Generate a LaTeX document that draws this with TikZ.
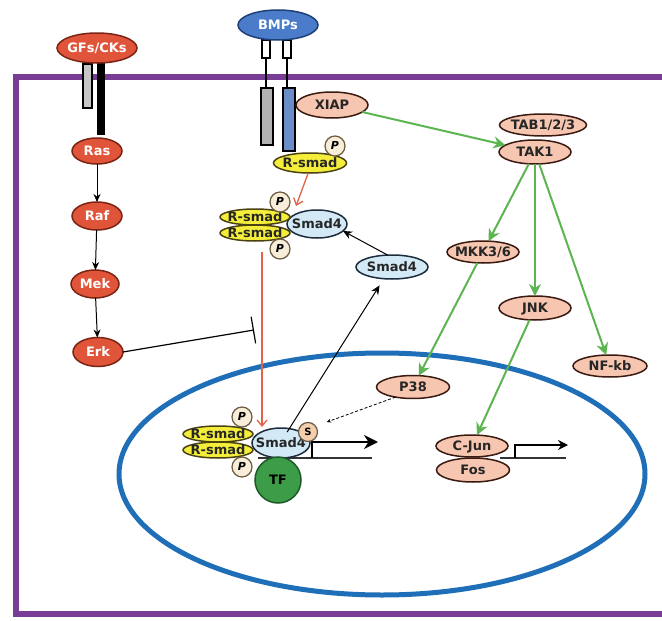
\documentclass[tikz,border=0pt]{standalone}
\usepackage{fontspec}
\setmainfont{DejaVu Sans}
\usetikzlibrary{shapes.geometric,arrows.meta}
\definecolor{mapk}{HTML}{E0553A}
\definecolor{mapkd}{HTML}{7A2414}
\definecolor{bmp}{HTML}{4A7CC9}
\definecolor{bmpd}{HTML}{1E3F78}
\definecolor{bmprec}{HTML}{6A8CC8}
\definecolor{salm}{HTML}{F6C6B0}
\definecolor{salmd}{HTML}{3A1A10}
\definecolor{yel}{HTML}{F4EE3A}
\definecolor{yeld}{HTML}{4A4210}
\definecolor{lblue}{HTML}{D3E9F6}
\definecolor{lblued}{HTML}{1C2C3C}
\definecolor{pfill}{HTML}{F7EDD8}
\definecolor{pdraw}{HTML}{6A5A40}
\definecolor{sfill}{HTML}{F4CFAE}
\definecolor{tfg}{HTML}{3C9C48}
\definecolor{tfgd}{HTML}{1D5A25}
\definecolor{nucb}{HTML}{1F6FB8}
\definecolor{memp}{HTML}{7A3D96}
\definecolor{grn}{HTML}{5CB550}
\definecolor{redar}{HTML}{E0634A}
\newcommand{\cellab}[1]{\makebox[0pt]{\raisebox{-.36em}[0pt][0pt]{#1}}}
\begin{document}
\begin{tikzpicture}[x=1pt,y=-1pt,
  mol/.style={ellipse, inner sep=0pt, outer sep=0pt, line width=1.5pt, font=\bfseries\fontsize{13}{15}\selectfont},
  mapkn/.style={mol, fill=mapk, draw=mapkd, text=white},
  bmpn/.style={mol, fill=bmp, draw=bmpd, text=white},
  salmn/.style={mol, fill=salm, draw=salmd, text=black!85},
  yeln/.style={mol, fill=yel, draw=yeld, text=black!85},
  bluen/.style={mol, fill=lblue, draw=lblued, text=black!85},
  phos/.style={circle, inner sep=0pt, minimum size=20pt, fill=pfill, draw=pdraw, line width=1.2pt, font=\bfseries\itshape\fontsize{11}{13}\selectfont},
  tfn/.style={circle, inner sep=0pt, minimum size=46pt, fill=tfg, draw=tfgd, line width=1.5pt, font=\bfseries\fontsize{13}{15}\selectfont},
  grnarr/.style={grn, line width=2pt, -{Stealth[length=12pt,width=12pt]}},
  blkarr/.style={black, line width=1pt, -{Stealth[length=8pt,width=7pt]}},
  redarr/.style={redar, line width=1.3pt, -{Straight Barb[length=6pt,width=10pt]}},
  dasharr/.style={black, line width=0.8pt, dash pattern=on 3pt off 2pt, -{Stealth[length=4pt,width=4pt]}},
  inhib/.style={black, line width=1.2pt, -{Bar[width=27pt,line width=1.2pt]}}
]
\useasboundingbox (0,0) rectangle (662,621);
\fill[white] (0,0) rectangle (662,621);
% membrane
\draw[memp, line width=6pt] (662,77) -- (16,77) -- (16,614) -- (662,614);
% nucleus
\draw[nucb, line width=5pt] (382,474) ellipse [x radius=263, y radius=121];
% GF receptor
\draw[line width=1.4pt, fill=gray!45] (83,64) rectangle (92,108);
\fill[black] (97,63) rectangle (105,135);
% BMP receptor
\draw[line width=1.4pt, fill=white] (262,40) rectangle (270,58);
\draw[line width=1.4pt, fill=white] (283,40) rectangle (291,58);
\draw[line width=2pt] (266,58) -- (266,88);
\draw[line width=2pt] (287,58) -- (287,88);
\draw[line width=1.6pt, fill=gray!60] (261,88) rectangle (273,145);
\draw[line width=1.6pt, fill=bmprec] (283,88) rectangle (295,151);
% gene structures
\draw[line width=1.2pt, black!80] (258,458) -- (372,458);
\draw[line width=1.2pt] (312,458) -- (312,442);
\draw[line width=2pt, -{Stealth[length=14pt,width=14pt]}] (311,442) -- (378,442);
\draw[line width=1.2pt, black!80] (500,458) -- (566,458);
\draw[line width=1.2pt] (515,458) -- (515,445);
\draw[line width=1.6pt, -{Stealth[length=10pt,width=10pt]}] (514.2,445) -- (568,445);
% nodes
\node[mapkn, minimum width=80pt, minimum height=30pt] (gfs) at (97,48) {\cellab{GFs/CKs}};
\node[mapkn, minimum width=50pt, minimum height=26pt] (ras) at (97,151) {\cellab{Ras}};
\node[mapkn, minimum width=50pt, minimum height=28pt] (raf) at (97,216) {\cellab{Raf}};
\node[mapkn, minimum width=48pt, minimum height=28pt] (mek) at (95,284) {\cellab{Mek}};
\node[mapkn, minimum width=50pt, minimum height=29pt] (erk) at (98,352) {\cellab{Erk}};
\node[bmpn, minimum width=80pt, minimum height=30pt] (bmps) at (278,25) {\cellab{BMPs}};
\node[salmn, minimum width=72pt, minimum height=26pt] (xiap) at (332,105) {\cellab{XIAP}};
\node[yeln, minimum width=73pt, minimum height=20pt] (rs1) at (310,163) {\cellab{R-smad}};
\node[phos] (p1) at (335,146) {\cellab{P}};
\node[salmn, minimum width=87pt, minimum height=22pt] (tab) at (543,125) {\cellab{TAB1/2/3}};
\node[salmn, minimum width=72pt, minimum height=24pt] (tak) at (535,152) {\cellab{TAK1}};
\node[salmn, minimum width=72pt, minimum height=22pt] (mkk) at (483,252) {\cellab{MKK3/6}};
\node[salmn, minimum width=72pt, minimum height=24pt] (jnk) at (535,308) {\cellab{JNK}};
\node[salmn, minimum width=74pt, minimum height=22pt] (nfkb) at (610,366) {\cellab{NF-kb}};
\node[salmn, minimum width=73pt, minimum height=23pt] (p38) at (413,387) {\cellab{P38}};
\node[bluen, minimum width=72pt, minimum height=24pt] (sm4f) at (392,267) {\cellab{Smad4}};
% cytoplasmic complex
\node[bluen, minimum width=60pt, minimum height=28pt] (sm4c) at (317,224) {\cellab{Smad4}};
\node[yeln, minimum width=70pt, minimum height=16pt] (rsc2) at (255,233) {\cellab{R-smad}};
\node[yeln, minimum width=70pt, minimum height=16pt] (rsc1) at (255,217) {\cellab{R-smad}};
\node[phos] (pc1) at (280,202) {\cellab{P}};
\node[phos] (pc2) at (280,249) {\cellab{P}};
% nuclear complex
\node[bluen, minimum width=58pt, minimum height=30pt] (sm4n) at (281,443) {\cellab{Smad4}};
\node[yeln, minimum width=70pt, minimum height=16pt] (rsn2) at (218,450) {\cellab{R-smad}};
\node[yeln, minimum width=70pt, minimum height=16pt] (rsn1) at (218,434) {\cellab{R-smad}};
\node[phos] (pn1) at (242,417) {\cellab{P}};
\node[phos] (pn2) at (242,467) {\cellab{P}};
\node[phos, fill=sfill, minimum size=19pt, font=\bfseries\fontsize{10}{12}\selectfont] (sn) at (308,432) {\cellab{S}};
\node[tfn] (tf) at (278,480) {\cellab{TF}};
\node[salmn, minimum width=73pt, minimum height=24pt] (fos) at (473,470) {\cellab{Fos}};
\node[salmn, minimum width=72pt, minimum height=22pt] (cjun) at (472,446) {\cellab{C-Jun}};
% coordinates for free ends
\coordinate (inh) at (254,330);
\coordinate (cxin) at (296,206);
\coordinate (rtop) at (262,252);
\coordinate (rbot) at (262,427);
\coordinate (pend) at (327,422);
% connectors
\draw[blkarr] (ras) -- (raf);
\draw[blkarr] (raf) -- (mek);
\draw[blkarr] (mek) -- (erk);
\draw[inhib] (erk.east) -- (inh);
\draw[redarr] (rs1.-100) -- (cxin);
\draw[redarr] (rtop) -- (rbot);
\draw[grnarr] (xiap) -- (tak);
\draw[grnarr] (tak) -- (mkk);
\draw[grnarr] (tak.south) -- (jnk.north);
\draw[grnarr] (tak) -- (nfkb);
\draw[grnarr] (mkk) -- (p38);
\draw[grnarr] (jnk) -- (cjun);
\draw[blkarr, -{Stealth[length=9pt,width=8pt]}] (sm4f.110) -- (sm4c.-15);
\draw[blkarr, -{Stealth[length=9pt,width=8pt]}, shorten <=-4pt, shorten >=8pt] (sm4n.60) -- (sm4f.-125);
\draw[dasharr] (p38.-150) -- (pend);
\end{tikzpicture}
\end{document}
